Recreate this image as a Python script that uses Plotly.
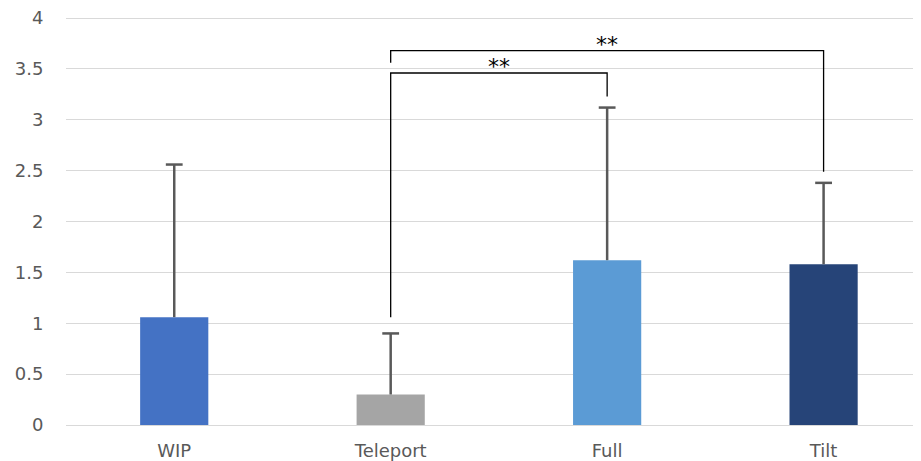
import plotly.graph_objects as go

categories = ["WIP", "Teleport", "Full", "Tilt"]
means = [1.06, 0.30, 1.62, 1.58]
errors_up = [1.50, 0.60, 1.50, 0.80]
bar_colors = ["#4472C4", "#A5A5A5", "#5B9BD5", "#264478"]
y_ticks = [0, 0.5, 1, 1.5, 2, 2.5, 3, 3.5, 4]
y_tick_labels = ["0", "0.5", "1", "1.5", "2", "2.5", "3", "3.5", "4"]

# significance brackets: (from, to, top level, left end, right end, label)
bracket_from = ["Teleport", "Teleport"]
bracket_to = ["Full", "Tilt"]
bracket_top = [3.46, 3.68]
bracket_left_end = [1.06, 3.56]
bracket_right_end = [3.23, 2.49]
bracket_label = ["**", "**"]

err_tops = [m + e for m, e in zip(means, errors_up)]

fig = go.Figure()
fig.add_trace(go.Bar(
    x=categories, y=means, width=0.315,
    marker=dict(color=bar_colors, line=dict(width=0)),
    error_y=dict(type="data", array=errors_up, symmetric=False,
                 arrayminus=[0] * len(means), color="#595959",
                 thickness=2.5, width=0),
    showlegend=False,
))
# error bar caps (top only)
fig.add_trace(go.Scatter(
    x=categories, y=err_tops, mode="markers",
    marker=dict(symbol="line-ew", size=12, color="#595959",
                line=dict(color="#595959", width=2.5)),
    showlegend=False, hoverinfo="skip",
))

idx = {c: i for i, c in enumerate(categories)}
for f, t, top, le, re, lab in zip(bracket_from, bracket_to, bracket_top,
                                  bracket_left_end, bracket_right_end, bracket_label):
    fig.add_trace(go.Scatter(
        x=[idx[f], idx[f], idx[t], idx[t]], y=[le, top, top, re],
        mode="lines", line=dict(color="black", width=1.3),
        showlegend=False, hoverinfo="skip", xaxis="x2",
    ))
    fig.add_annotation(x=(idx[f] + idx[t]) / 2, y=top, xref="x2", yref="y",
                       text=lab, showarrow=False, yanchor="bottom", yshift=-8,
                       font=dict(size=22, color="black", family="DejaVu Sans"))

fig.update_layout(
    width=921, height=461,
    margin=dict(l=58, r=8, t=8, b=44, autoexpand=False),
    paper_bgcolor="white", plot_bgcolor="white",
    font=dict(family="DejaVu Sans", size=18, color="#595959"),
    xaxis=dict(range=[-0.5, 3.45], showgrid=False, zeroline=False, automargin=False,
               showline=False, ticks="outside", ticklen=9, tickcolor="rgba(0,0,0,0)",
               tickfont=dict(size=18, color="#595959")),
    xaxis2=dict(range=[-0.5, 3.45], overlaying="x", visible=False),
    yaxis=dict(range=[0, 4.02], tickvals=y_ticks, ticktext=y_tick_labels,
               showgrid=True, gridcolor="#D9D9D9", gridwidth=1, automargin=False,
               zeroline=True, zerolinecolor="#D9D9D9", zerolinewidth=1,
               showline=False, ticks="outside", ticklen=18, tickcolor="rgba(0,0,0,0)",
               tickfont=dict(size=18, color="#595959"),
               ticklabeloverflow="allow"),
)

fig.write_html("out.html")
